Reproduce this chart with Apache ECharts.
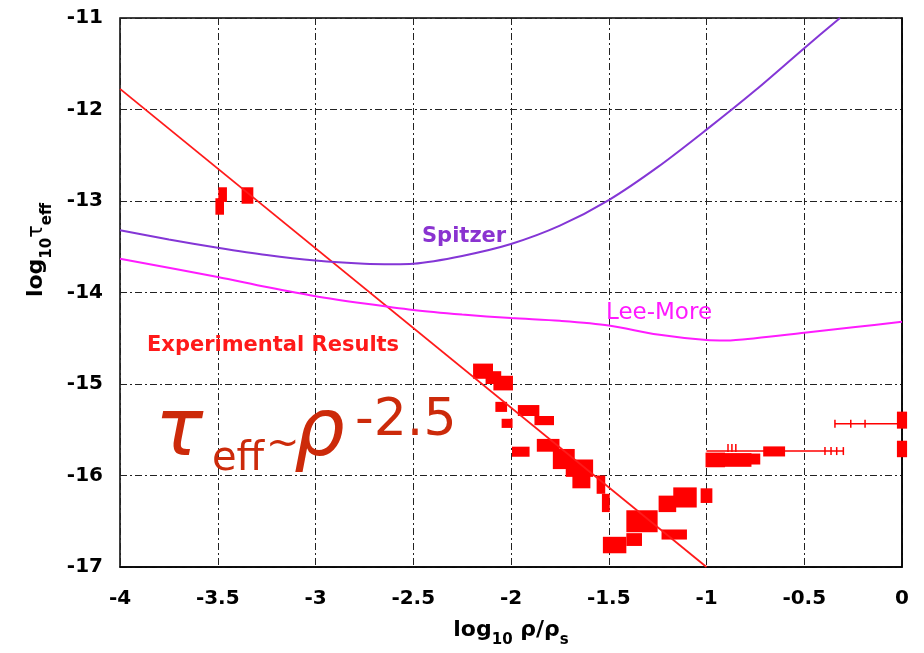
<!DOCTYPE html>
<html>
<head>
<meta charset="utf-8">
<script src="https://cdn.jsdelivr.net/npm/echarts@6/dist/echarts.min.js"></script>
<style>html,body{margin:0;padding:0;background:#fff;}#c{width:924px;height:653px;}</style>
</head>
<body>
<div id="c"></div>
<script>
// ---- data ----
const xTicks = [-4, -3.5, -3, -2.5, -2, -1.5, -1, -0.5, 0];
const yTicks = [-17, -16, -15, -14, -13, -12, -11];
const fitLine = [[-4, -11.775], [-1, -17]];
const spitzer = [[-4, -13.32], [-3.75, -13.42], [-3.5, -13.51], [-3.25, -13.59], [-3, -13.65], [-2.75, -13.685], [-2.6, -13.69], [-2.5, -13.685], [-2.25, -13.6], [-2, -13.47], [-1.75, -13.27], [-1.5, -12.99], [-1.25, -12.63], [-1, -12.22], [-0.75, -11.79], [-0.5, -11.33], [-0.317, -11.0]];
const leeMore = [[-4, -13.63], [-3.5, -13.83], [-3.25, -13.94], [-3, -14.04], [-2.75, -14.12], [-2.5, -14.19], [-2.25, -14.24], [-2, -14.28], [-1.75, -14.31], [-1.5, -14.36], [-1.25, -14.46], [-1, -14.52], [-0.9, -14.525], [-0.75, -14.5], [-0.5, -14.44], [-0.25, -14.38], [0, -14.32]];
// experimental results: [x, y, xErr, yErr]
const expBlocks = [
  [-3.49, -13.06, 0.022, 0.09], [-3.475, -12.93, 0.022, 0.08], [-3.348, -12.94, 0.03, 0.09],
  [-2.143, -14.86, 0.051, 0.083], [-2.09, -14.93, 0.04, 0.07], [-2.04, -14.99, 0.05, 0.08],
  [-2.05, -15.25, 0.03, 0.055], [-2.02, -15.43, 0.028, 0.05],
  [-1.91, -15.29, 0.055, 0.06], [-1.83, -15.40, 0.05, 0.05], [-1.95, -15.74, 0.045, 0.055],
  [-1.81, -15.67, 0.058, 0.07], [-1.73, -15.82, 0.056, 0.11], [-1.65, -15.92, 0.07, 0.095], [-1.64, -16.06, 0.046, 0.08],
  [-1.54, -16.1, 0.022, 0.1], [-1.515, -16.3, 0.02, 0.1],
  [-1.47, -16.76, 0.06, 0.09], [-1.37, -16.7, 0.04, 0.07],
  [-1.33, -16.5, 0.08, 0.12], [-1.165, -16.645, 0.065, 0.055],
  [-1.2, -16.31, 0.045, 0.09], [-1.11, -16.24, 0.06, 0.11], [-1.0, -16.22, 0.03, 0.08],
  [-0.955, -15.83, 0.05, 0.08], [-0.84, -15.83, 0.07, 0.075], [-0.75, -15.82, 0.025, 0.06],
  [-0.654, -15.737, 0.056, 0.055],
  [0, -15.395, 0.026, 0.093], [0, -15.71, 0.026, 0.09]
];
// horizontal error bars: [y, xMin, xMax]
const expWhiskers = [[-15.435, -0.343, 0], [-15.733, -1.0, -0.30]];
// error bar caps: [x, y]
const expCaps = [[-0.343, -15.435], [-0.262, -15.435], [-0.189, -15.435],
  [-0.394, -15.733], [-0.363, -15.733], [-0.334, -15.733], [-0.30, -15.733],
  [-0.89, -15.70], [-0.87, -15.70], [-0.85, -15.70]];

const RED = '#ff0000';
const FONT = 'DejaVu Sans';
const chart = echarts.init(document.getElementById('c'), null, {renderer: 'canvas'});

const titleRich = {
  m: {fontSize: 22, fontWeight: 'bold', fontFamily: FONT, fill: '#000', color: '#000', verticalAlign: 'bottom', padding: [0, 0, 7, 0]},
  t: {fontSize: 21, fontFamily: FONT, fill: '#000', color: '#000', verticalAlign: 'bottom', padding: [0, 0, 7, 0]},
  s: {fontSize: 15, fontWeight: 'bold', fontFamily: FONT, fill: '#000', color: '#000', verticalAlign: 'bottom'}
};

const option = {
  animation: false,
  backgroundColor: '#fff',
  grid: {left: 120, right: 22, top: 18, bottom: 85, show: true, borderColor: '#000', borderWidth: 1.5, backgroundColor: 'transparent'},
  xAxis: {
    type: 'value', min: xTicks[0], max: xTicks[xTicks.length - 1], interval: 0.5,
    name: '{m|log}{s|10}{m| ρ/ρ}{s|s}', nameLocation: 'middle', nameGap: 52,
    nameTextStyle: {rich: titleRich},
    axisLine: {show: true, lineStyle: {color: '#000', width: 1.5}},
    axisTick: {show: false},
    axisLabel: {fontSize: 20, fontWeight: 'bold', fontFamily: FONT, color: '#000', margin: 22,
      formatter: v => String(xTicks.find(t => Math.abs(t - v) < 1e-9) ?? v)},
    splitLine: {show: true, lineStyle: {color: '#222', width: 1, type: [7, 3, 2, 3]}}
  },
  yAxis: {
    type: 'value', min: yTicks[0], max: yTicks[yTicks.length - 1], interval: 1,
    axisLine: {show: true, lineStyle: {color: '#000', width: 1.5}},
    axisTick: {show: false},
    axisLabel: {fontSize: 20, fontWeight: 'bold', fontFamily: FONT, color: '#000', margin: 17},
    splitLine: {show: true, lineStyle: {color: '#222', width: 1, type: [7, 3, 2, 3]}}
  },
  series: [
    {
      type: 'custom', name: 'Experimental Results', data: expBlocks, clip: false, z: 3,
      renderItem: (params, api) => {
        const x = api.value(0), y = api.value(1), dx = api.value(2), dy = api.value(3);
        const p1 = api.coord([x - dx, y + dy]);
        const p2 = api.coord([x + dx, y - dy]);
        return {type: 'rect', shape: {x: p1[0], y: p1[1], width: p2[0] - p1[0], height: p2[1] - p1[1]}, style: {fill: RED}};
      }
    },
    {
      type: 'custom', data: expWhiskers, clip: false, z: 3,
      renderItem: (params, api) => {
        const y = api.value(0);
        const a = api.coord([api.value(1), y]);
        const b = api.coord([api.value(2), y]);
        return {type: 'line', shape: {x1: a[0], y1: a[1], x2: b[0], y2: b[1]}, style: {stroke: RED, lineWidth: 1.5}};
      }
    },
    {
      type: 'custom', data: expCaps, clip: false, z: 3,
      renderItem: (params, api) => {
        const p = api.coord([api.value(0), api.value(1)]);
        return {type: 'line', shape: {x1: p[0], y1: p[1] - 4, x2: p[0], y2: p[1] + 4}, style: {stroke: RED, lineWidth: 1.5}};
      }
    },
    {type: 'line', data: fitLine, symbol: 'none', z: 4, lineStyle: {color: '#ff1a1a', width: 1.8}},
    {type: 'line', data: spitzer, symbol: 'none', smooth: 0.3, z: 4, lineStyle: {color: '#8436d6', width: 2}},
    {type: 'line', data: leeMore, symbol: 'none', smooth: 0.3, z: 4, lineStyle: {color: '#ff1cff', width: 2}}
  ],
  graphic: [
    {type: 'text', x: 40, y: 250, rotation: Math.PI / 2, z: 10,
      style: {text: '{m|log}{s|10}{t|τ}{s|eff}', rich: titleRich, align: 'center', verticalAlign: 'middle'}},
    {type: 'text', left: 422, top: 226, z: 10, style: {text: 'Spitzer', fontSize: 21, fontWeight: 'bold', fontFamily: FONT, fill: '#8a33d0'}},
    {type: 'text', left: 606, top: 302, z: 10, style: {text: 'Lee-More', fontSize: 23, fontFamily: FONT, fill: '#ff19ff'}},
    {type: 'text', left: 147, top: 335, z: 10, style: {text: 'Experimental Results', fontSize: 21, fontWeight: 'bold', fontFamily: FONT, fill: '#ff1a1a'}},
    {type: 'text', x: 155, y: 434, z: 10, style: {text: 'τ', fontSize: 80, fontStyle: 'italic', fontFamily: FONT, fill: '#cc2a0a', verticalAlign: 'middle'}},
    {type: 'text', x: 212, y: 460, z: 10, style: {text: 'eff', fontSize: 40, fontFamily: FONT, fill: '#cc2a0a', verticalAlign: 'middle'}},
    {type: 'text', x: 266, y: 446, z: 10, style: {text: '~', fontSize: 40, fontFamily: FONT, fill: '#cc2a0a', verticalAlign: 'middle'}},
    {type: 'text', x: 294, y: 434, z: 10, style: {text: 'ρ', fontSize: 80, fontStyle: 'italic', fontFamily: FONT, fill: '#cc2a0a', verticalAlign: 'middle'}},
    {type: 'text', x: 355, y: 421, z: 10, style: {text: '-2.5', fontSize: 52, fontFamily: FONT, fill: '#cc2a0a', verticalAlign: 'middle'}}
  ]
};
chart.setOption(option);
</script>
</body>
</html>
